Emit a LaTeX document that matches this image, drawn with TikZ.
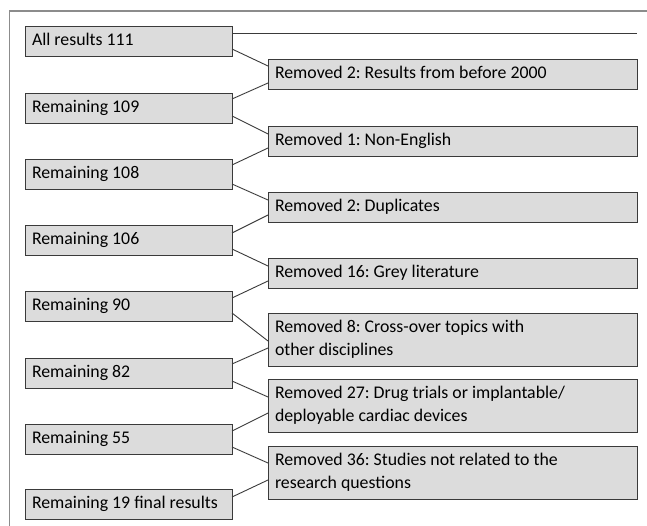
\documentclass[tikz,border=0pt]{standalone}
\usepackage{fontspec}
\setmainfont{Carlito}
\frenchspacing
\definecolor{boxfill}{HTML}{DCDCDC}
\definecolor{boxline}{HTML}{3A3A3A}
\definecolor{frameline}{HTML}{8C8C8C}
\begin{document}
\begin{tikzpicture}[x=1pt,y=1pt,
  base/.style={draw=boxline, fill=boxfill, line width=0.9pt, anchor=north west,
    outer sep=0pt, inner xsep=7pt, inner ysep=0pt, align=flush left,
    font=\fontsize{17.8}{23}\selectfont\frenchspacing},
  lbox/.style={base, minimum width=207pt, text width=193pt, minimum height=30pt,
    text height=13pt, text depth=4pt},
  rbox/.style={base, minimum width=369pt, text width=355pt, minimum height=30pt,
    text height=13pt, text depth=4pt},
  rboxx/.style={base, minimum width=369pt, text width=355pt, minimum height=53pt},
  conn/.style={draw=boxline, line width=0.9pt},
  frame/.style={draw=frameline, line width=1.5pt}
]
\useasboundingbox (0,0) rectangle (647,-526);
\draw[frame] (9.5,-526) -- (9.5,-11) -- (647,-11);

\node[lbox] (L0) at (25,-26)  {All results 111};
\node[lbox] (L1) at (25,-93)  {Remaining 109};
\node[lbox] (L2) at (25,-159) {Remaining 108};
\node[lbox] (L3) at (25,-225) {Remaining 106};
\node[lbox] (L4) at (25,-291) {Remaining 90};
\node[lbox] (L5) at (25,-358) {Remaining 82};
\node[lbox] (L6) at (25,-424) {Remaining 55};
\node[lbox] (L7) at (25,-489) {Remaining 19 final results};

\node[rbox] (R0) at (268,-59)  {Removed 2: Results from before 2000};
\node[rbox] (R1) at (268,-126) {Removed 1: Non-English};
\node[rbox] (R2) at (268,-192) {Removed 2: Duplicates};
\node[rbox] (R3) at (268,-258) {Removed 16: Grey literature};
\node[rboxx] (R4) at (268,-313) {Removed 8: Cross-over topics with\\other disciplines};
\node[rboxx] (R5) at (268,-379) {Removed 27: Drug trials or implantable/\\deployable cardiac devices};
\node[rboxx] (R6) at (268,-446) {Removed 36: Studies not related to the\\research questions};

\coordinate (topend) at (637,-33);
\draw[conn] ([yshift=-7pt]L0.north east) -- (topend);

\draw[conn] ([yshift=7pt]L0.south east) -- ([yshift=-7pt]R0.north west);
\draw[conn] ([yshift=6pt]R0.south west) -- ([yshift=-6pt]L1.north east);
\draw[conn] ([yshift=7pt]L1.south east) -- ([yshift=-8pt]R1.north west);
\draw[conn] ([yshift=8pt]R1.south west) -- ([yshift=-6pt]L2.north east);
\draw[conn] ([yshift=5pt]L2.south east) -- ([yshift=-8pt]R2.north west);
\draw[conn] ([yshift=7pt]R2.south west) -- ([yshift=-8pt]L3.north east);
\draw[conn] ([yshift=6pt]L3.south east) -- ([yshift=-8pt]R3.north west);
\draw[conn] ([yshift=7pt]R3.south west) -- ([yshift=-7pt]L4.north east);
\draw[conn] ([yshift=8pt]L4.south east) -- ([yshift=-28pt]R4.north west);
\draw[conn] ([yshift=18pt]R4.south west) -- ([yshift=-6pt]L5.north east);
\draw[conn] ([yshift=7pt]L5.south east) -- ([yshift=-18pt]R5.north west);
\draw[conn] ([yshift=19pt]R5.south west) -- ([yshift=-7pt]L6.north east);
\draw[conn] ([yshift=7pt]L6.south east) -- ([yshift=-17pt]R6.north west);
\draw[conn] ([yshift=19pt]R6.south west) -- ([yshift=-8pt]L7.north east);
\end{tikzpicture}
\end{document}
